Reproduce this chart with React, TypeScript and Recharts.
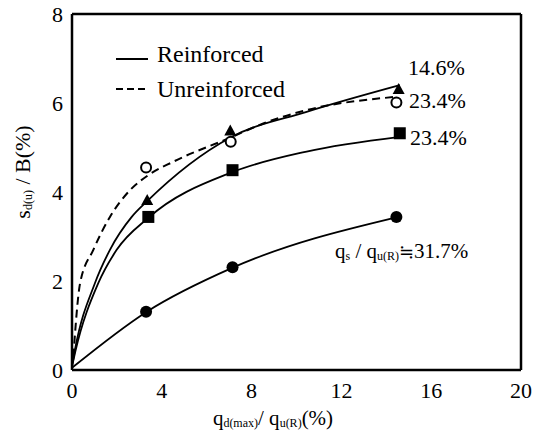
import { ComposedChart, Line, Scatter, XAxis, YAxis } from "recharts";

const xTicks = [0, 4, 8, 12, 16, 20];
const yTicks = [0, 2, 4, 6, 8];
const xInner = [4, 8, 12, 16];
const yInner = [2, 4, 6];

// markers
const triPoints = [
    { x: 3.35, y: 3.8 },
    { x: 7.05, y: 5.36 },
    { x: 14.55, y: 6.29 },
];
const squarePoints = [
    { x: 3.4, y: 3.44 },
    { x: 7.15, y: 4.49 },
    { x: 14.6, y: 5.32 },
];
const dotPoints = [
    { x: 3.3, y: 1.31 },
    { x: 7.15, y: 2.31 },
    { x: 14.45, y: 3.44 },
];
const openPoints = [
    { x: 3.3, y: 4.55 },
    { x: 7.07, y: 5.13 },
    { x: 14.45, y: 6.01 },
];

// fitted curves
const curve146 = [
    { x: 0, y: 0.08 },
    { x: 0.13, y: 0.45 },
    { x: 1.02, y: 1.95 },
    { x: 1.69, y: 2.7 },
    { x: 2.66, y: 3.44 },
    { x: 3.36, y: 3.8 },
    { x: 7.04, y: 5.22 },
    { x: 10.45, y: 5.8 },
    { x: 14.6, y: 6.4 },
];
const curve234 = [
    { x: 0, y: 0.08 },
    { x: 0.15, y: 0.42 },
    { x: 1.17, y: 1.95 },
    { x: 1.99, y: 2.7 },
    { x: 3.4, y: 3.42 },
    { x: 7.16, y: 4.45 },
    { x: 10.45, y: 4.91 },
    { x: 14.61, y: 5.24 },
];
const curve317 = [
    { x: 0, y: 0.05 },
    { x: 3.3, y: 1.3 },
    { x: 7.16, y: 2.3 },
    { x: 14.45, y: 3.43 },
];
const curveUnr = [
    { x: 0.06, y: 0.3 },
    { x: 0.36, y: 1.95 },
    { x: 0.95, y: 2.7 },
    { x: 1.69, y: 3.44 },
    { x: 2.58, y: 4.04 },
    { x: 3.4, y: 4.38 },
    { x: 4.51, y: 4.68 },
    { x: 7.04, y: 5.22 },
    { x: 8.52, y: 5.54 },
    { x: 10.45, y: 5.84 },
    { x: 14.46, y: 6.14 },
];

const serif = "Liberation Serif, DejaVu Serif, serif";

const Triangle = (p: any) => (
    <polygon
        points={`${p.cx},${p.cy - 7} ${p.cx - 6},${p.cy + 4} ${p.cx + 6},${p.cy + 4}`}
        fill="#000"
    />
);
const Square = (p: any) => <rect x={p.cx - 6} y={p.cy - 6} width={12} height={12} fill="#000" />;
const Dot = (p: any) => <circle cx={p.cx} cy={p.cy} r={6} fill="#000" />;
const OpenDot = (p: any) => <circle cx={p.cx} cy={p.cy} r={5} fill="#fff" stroke="#000" strokeWidth={2} />;

const frame = { stroke: "#000", strokeWidth: 2.5 };
const inTick = { stroke: "#000", strokeWidth: 2 };

export default function App() {
    return (
        <div style={{ position: "absolute", left: 0, top: 0, width: 534, height: 434, background: "#fff" }}>
            <ComposedChart width={534} height={434} margin={{ top: 14, right: 13, bottom: 0, left: 0 }}>
                <XAxis
                    xAxisId="x"
                    type="number"
                    dataKey="x"
                    domain={[0, 20]}
                    ticks={xTicks}
                    height={64}
                    axisLine={frame}
                    tickLine={false}
                    tickSize={0}
                    tickMargin={12}
                    tick={{ fill: "#000", fontSize: 22, fontFamily: serif }}
                />
                <XAxis xAxisId="xb" type="number" dataKey="x" domain={[0, 20]} ticks={xInner}
                    orientation="bottom" mirror axisLine={false} tick={false} tickLine={inTick} tickSize={8} />
                <XAxis xAxisId="xt" type="number" dataKey="x" domain={[0, 20]} ticks={xInner}
                    orientation="top" mirror axisLine={frame} tick={false} tickLine={inTick} tickSize={8} />
                <YAxis
                    yAxisId="y"
                    type="number"
                    domain={[0, 8]}
                    ticks={yTicks}
                    width={72}
                    axisLine={frame}
                    tickLine={false}
                    tickSize={0}
                    tickMargin={9}
                    tick={{ fill: "#000", fontSize: 22, fontFamily: serif }}
                />
                <YAxis yAxisId="yl" type="number" domain={[0, 8]} ticks={yInner}
                    orientation="left" mirror axisLine={false} tick={false} tickLine={inTick} tickSize={8} />
                <YAxis yAxisId="yr" type="number" domain={[0, 8]} ticks={yInner}
                    orientation="right" mirror axisLine={frame} tick={false} tickLine={inTick} tickSize={8} />

                <Line xAxisId="x" yAxisId="y" data={curveUnr} dataKey="y" type="monotone" dot={false}
                    stroke="#000" strokeWidth={2} strokeDasharray="8 5" isAnimationActive={false} />
                <Line xAxisId="x" yAxisId="y" data={curve146} dataKey="y" type="monotone" dot={false}
                    stroke="#000" strokeWidth={1.8} isAnimationActive={false} />
                <Line xAxisId="x" yAxisId="y" data={curve234} dataKey="y" type="monotone" dot={false}
                    stroke="#000" strokeWidth={1.8} isAnimationActive={false} />
                <Line xAxisId="x" yAxisId="y" data={curve317} dataKey="y" type="monotone" dot={false}
                    stroke="#000" strokeWidth={1.8} isAnimationActive={false} />

                <Scatter xAxisId="x" yAxisId="y" data={openPoints} dataKey="y" shape={OpenDot} isAnimationActive={false} />
                <Scatter xAxisId="x" yAxisId="y" data={triPoints} dataKey="y" shape={Triangle} isAnimationActive={false} />
                <Scatter xAxisId="x" yAxisId="y" data={squarePoints} dataKey="y" shape={Square} isAnimationActive={false} />
                <Scatter xAxisId="x" yAxisId="y" data={dotPoints} dataKey="y" shape={Dot} isAnimationActive={false} />
            </ComposedChart>

            <svg width={534} height={434} style={{ position: "absolute", left: 0, top: 0, pointerEvents: "none" }}
                fontFamily={serif} fill="#000">
                {/* legend */}
                <line x1={116} y1={59} x2={148} y2={59} stroke="#000" strokeWidth={2} />
                <text x={157} y={62} fontSize={24}>Reinforced</text>
                <line x1={116} y1={89} x2={148} y2={89} stroke="#000" strokeWidth={2} strokeDasharray="7 4" />
                <text x={157} y={97} fontSize={24}>Unreinforced</text>

                {/* series labels */}
                <text x={408} y={75} fontSize={22}>14.6%</text>
                <text x={409} y={108} fontSize={22}>23.4%</text>
                <text x={410} y={145} fontSize={22}>23.4%</text>
                <text x={335} y={258} fontSize={21}>
                    q<tspan fontSize={12} dy={2}>s</tspan>
                    <tspan dy={-2}> / q</tspan>
                    <tspan fontSize={12} dy={2}>u(R)</tspan>
                    <tspan dy={-2} fontFamily="DejaVu Serif" fontSize={18}>≒</tspan>
                    <tspan>31.7%</tspan>
                </text>

                {/* axis titles */}
                <text x={273} y={425} fontSize={21} textAnchor="middle">
                    q<tspan fontSize={12} dy={2}>d(max)</tspan>
                    <tspan dy={-2}>/ q</tspan>
                    <tspan fontSize={12} dy={2}>u(R)</tspan>
                    <tspan dy={-2}>(%)</tspan>
                </text>
                <text x={0} y={0} fontSize={22} textAnchor="middle" transform="translate(30,172) rotate(-90)">
                    s<tspan fontSize={12} dy={2}>d(u)</tspan>
                    <tspan dy={-2}> / B(%)</tspan>
                </text>
            </svg>
        </div>
    );
}
